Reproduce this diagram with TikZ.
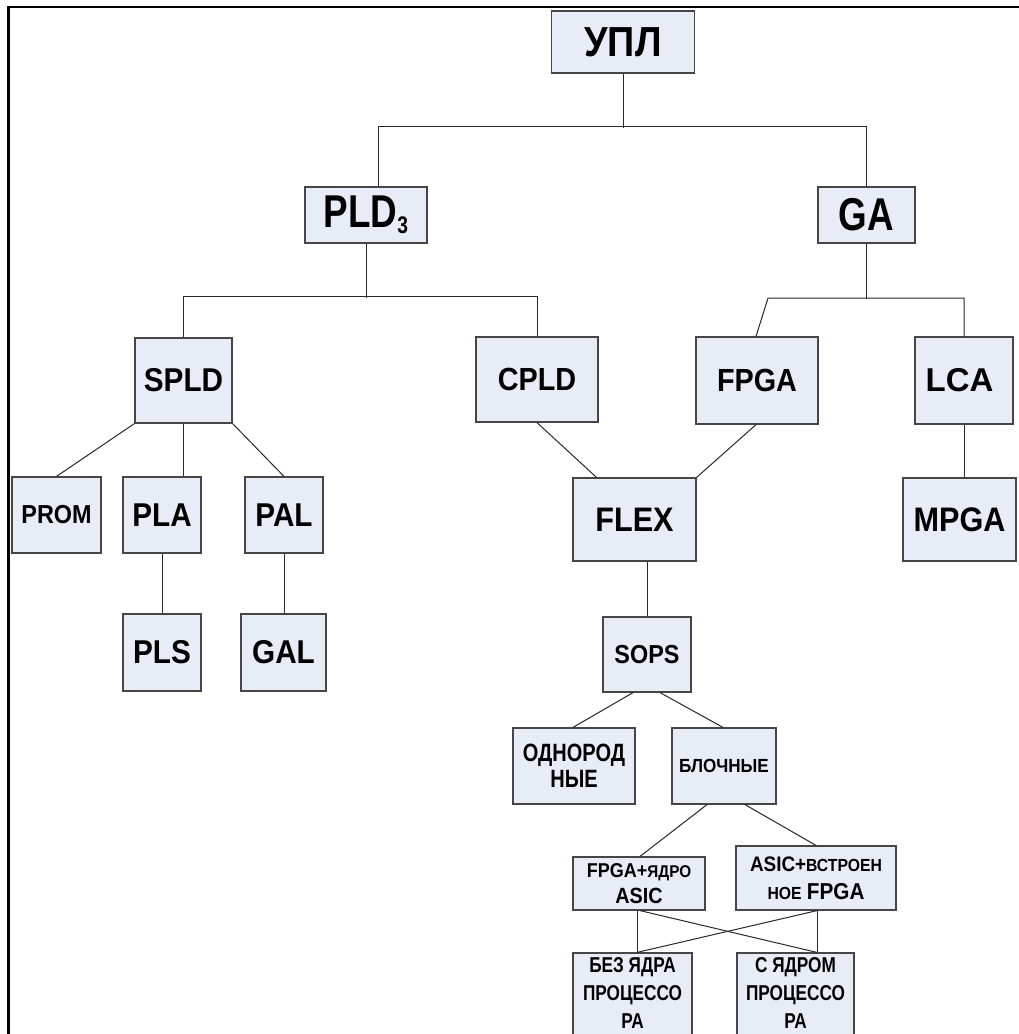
\documentclass[tikz,border=0pt]{standalone}
\usepackage{fontspec}
\setmainfont{Liberation Sans}[FakeStretch=0.9]
\newfontfamily\narrowsf{Liberation Sans}[FakeStretch=0.8]
\newfontfamily\widesf{Liberation Sans}
\definecolor{boxfill}{RGB}{231,236,246}
\definecolor{edgegray}{RGB}{70,70,70}
\definecolor{linkgray}{RGB}{40,40,40}
\newcommand{\fsz}[1]{\fontsize{#1}{#1}\selectfont}
\newcommand{\fszl}[2]{\fontsize{#1}{#2}\selectfont}
\tikzset{
  box/.style={draw=edgegray, fill=boxfill, line width=1.2pt, inner sep=0pt,
              align=center, text=black},
  sz/.style 2 args={minimum width=#1, minimum height=#2},
  link/.style={draw=linkgray, line width=1pt},
  lbl/.style={align=center, text=black, inner sep=0pt},
}
\begin{document}
\begin{tikzpicture}[x=1pt,y=-1pt]
\clip (0,0) rectangle (1019,1034);
\fill[white] (0,0) rectangle (1019,1034);
% frame
\draw[line width=2.5pt] (8.5,1040) -- (8.5,7) -- (1025,7);

% level 0
\node[box, sz={143}{62}, font=\bfseries\fsz{42}] (upl) at (623,42) {УПЛ};
% level 1
\node[box, sz={122}{56}, font=\bfseries\narrowsf\fsz{46}] (pld) at (366,215)
  {PLD\raisebox{-6pt}{\fsz{24}3}};
\node[box, sz={97}{56}, font=\bfseries\narrowsf\fsz{46}] (ga) at (866.5,215) {GA};
% level 2
\node[box, sz={97}{85}, font=\bfseries\fsz{33}] (spld) at (183.5,380.5) {SPLD};
\node[box, sz={122}{85}, font=\bfseries\fsz{32}] (cpld) at (537,379.5) {CPLD};
\node[box, sz={122}{87}, font=\bfseries\fsz{32}] (fpga) at (757,380.5) {FPGA};
\node[box, sz={98}{87}, font=\bfseries\widesf\fsz{33}] (lca) at (964,380.5)
  {\hspace*{-9pt}LCA};
% level 3
\node[box, sz={89}{76}, font=\bfseries\fsz{26}] (prom) at (56.5,515) {PROM};
\node[box, sz={78}{76}, font=\bfseries\fsz{33}] (pla) at (162,515) {PLA};
\node[box, sz={78}{76}, font=\bfseries\fsz{33}] (pal) at (284,515) {PAL};
\node[box, sz={123}{83}, font=\bfseries\fsz{34}] (flex) at (634.5,519.5) {FLEX};
\node[box, sz={113}{83}, font=\bfseries\fsz{34}] (mpga) at (959.5,519.5) {MPGA};
% level 4
\node[box, sz={78}{77}, font=\bfseries\fsz{33}] (pls) at (162,652.5) {PLS};
\node[box, sz={85}{77}, font=\bfseries\fsz{33}] (gal) at (283.5,652.5) {GAL};
\node[box, sz={88}{75}, font=\bfseries\fsz{26}] (sops) at (647,654.5) {SOPS};
% level 5
\node[box, sz={122}{76}, font=\bfseries\narrowsf\fszl{25}{26}] (odn) at (574,766)
  {ОДНОРОД\\НЫЕ};
\node[box, sz={104}{76}, font=\bfseries\fsz{19}] (blk) at (724,766) {БЛОЧНЫЕ};
% level 6
\node[box, sz={132}{53}, font=\bfseries\fszl{20}{26}] (fa) at (639,883.5)
  {FPGA+{\fsz{17}ЯДРО}\\{\fsz{22}ASIC}};
\node[box, sz={160}{64}, font=\bfseries\fszl{21}{28}] (af) at (816,878)
  {ASIC+{\fsz{17.5}ВСТРОЕН}\\{\fsz{17.5}НОЕ} {\fsz{23}FPGA}};
% level 7 (running past the lower edge)
\node[box, sz={119}{96}, label={[lbl, font=\bfseries\narrowsf\fszl{21.5}{28}, yshift=8pt]center:БЕЗ ЯДРА\\ПРОЦЕССО\\РА}]
  (bez) at (632.5,1001) {};
\node[box, sz={117}{96}, label={[lbl, font=\bfseries\narrowsf\fszl{21.5}{28}, yshift=8pt]center:С ЯДРОМ\\ПРОЦЕССО\\РА}]
  (sya) at (795.5,1001) {};

% connectors
\draw[link] (upl.south) -- ++(0,54);
\draw[link] ([xshift=12pt]pld.north) -- ++(0,-60) -| (ga.north);
\draw[link] (pld.south) -- ++(0,54);
\draw[link] (spld.north) -- ++(0,-41) -| (cpld.north);
\draw[link] (ga.south) -- ++(0,55);
\coordinate (gaL) at (768,298);
\draw[link] ([xshift=-1pt]fpga.north) -- (gaL) -| (lca.north);

\draw[link] (spld.south west) -- (prom.north);
\draw[link] (spld.south) -- (spld.south |- pla.north);
\draw[link] (spld.south east) -- (pal.north);
\draw[link] (pla.south) -- (pls.north);
\draw[link] (pal.south) -- (pal.south |- gal.north);

\draw[link] (cpld.south) -- ([xshift=-38pt]flex.north);
\draw[link] ([xshift=-1pt]fpga.south) -- (flex.north east);
\draw[link] (lca.south) -- (lca.south |- mpga.north);

\draw[link] (sops.north) -- (sops.north |- flex.south);
\draw[link] ([xshift=-14pt]sops.south) -- ([xshift=-1pt]odn.north);
\draw[link] ([xshift=13pt]sops.south) -- ([xshift=-1pt]blk.north);

\draw[link] ([xshift=-17pt]blk.south) -- ([xshift=1pt]fa.north);
\draw[link] ([xshift=21pt]blk.south) -- (af.north);

\draw[link] ([xshift=-2pt]fa.south) -- ([xshift=-2pt]fa.south |- bez.north);
\draw[link] ([xshift=1pt]af.south) -- ([xshift=1pt]af.south |- sya.north);
\draw[link] ([xshift=1pt]fa.south) -- ([xshift=1pt]af.south |- sya.north);
\draw[link] ([xshift=1pt]af.south) -- ([xshift=-2pt]fa.south |- bez.north);
\end{tikzpicture}
\end{document}
